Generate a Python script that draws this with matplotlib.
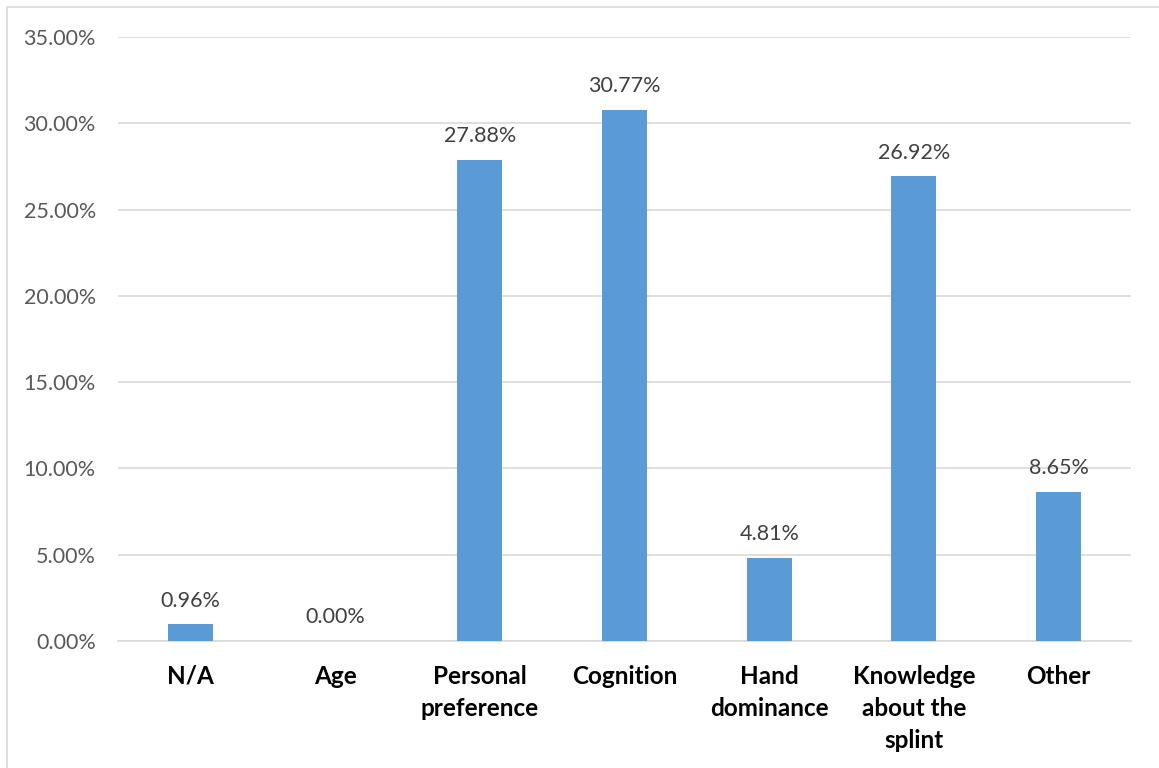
import matplotlib
matplotlib.use("Agg")
import matplotlib.pyplot as plt
from matplotlib.patches import Rectangle
from matplotlib.ticker import FuncFormatter, MultipleLocator

categories = ["N/A", "Age", "Personal\npreference", "Cognition",
              "Hand\ndominance", "Knowledge\nabout the\nsplint", "Other"]
values = [0.96, 0.00, 27.88, 30.77, 4.81, 26.92, 8.65]

plt.rcParams['font.family'] = ['Lato', 'DejaVu Sans']

fig = plt.figure(figsize=(11.59, 7.68), dpi=100)
fig.patches.append(Rectangle((7 / 1159, -0.05), 1.2, 1 - 7 / 768 + 0.05,
                             transform=fig.transFigure, fill=False,
                             edgecolor="#d9d9d9", linewidth=1.2))

ax = fig.add_axes([118 / 1159, 1 - 641 / 768, (1131 - 118) / 1159, (641 - 37) / 768])
x = range(len(categories))
bars = ax.bar(x, values, width=0.31, color="#5B9BD5", zorder=3)

for xi, v in zip(x, values):
    ax.text(xi, v + 0.8, f"{v:.2f}%", ha="center", va="bottom",
            fontsize=15.5, color="#404040")

ax.set_xlim(-0.5, len(categories) - 0.5)
ax.set_ylim(0, 35)
ax.yaxis.set_major_locator(MultipleLocator(5))
ax.yaxis.set_major_formatter(FuncFormatter(lambda v, p: f"{v:.2f}%"))
ax.grid(axis="y", color="#d9d9d9", linewidth=1.2, zorder=0)

for s in ["top", "right", "left"]:
    ax.spines[s].set_visible(False)
ax.spines["bottom"].set_color("#d9d9d9")
ax.spines["bottom"].set_linewidth(1.2)

ax.set_xticks(list(x))
ax.set_xticklabels(categories, fontsize=17.5, fontweight="bold", color="black",
                   linespacing=1.48, va="top")
ax.tick_params(axis="x", length=0, pad=17)
ax.tick_params(axis="y", length=0, pad=16, labelsize=15.5, labelcolor="#595959")

fig.savefig("out.png", dpi=100)
